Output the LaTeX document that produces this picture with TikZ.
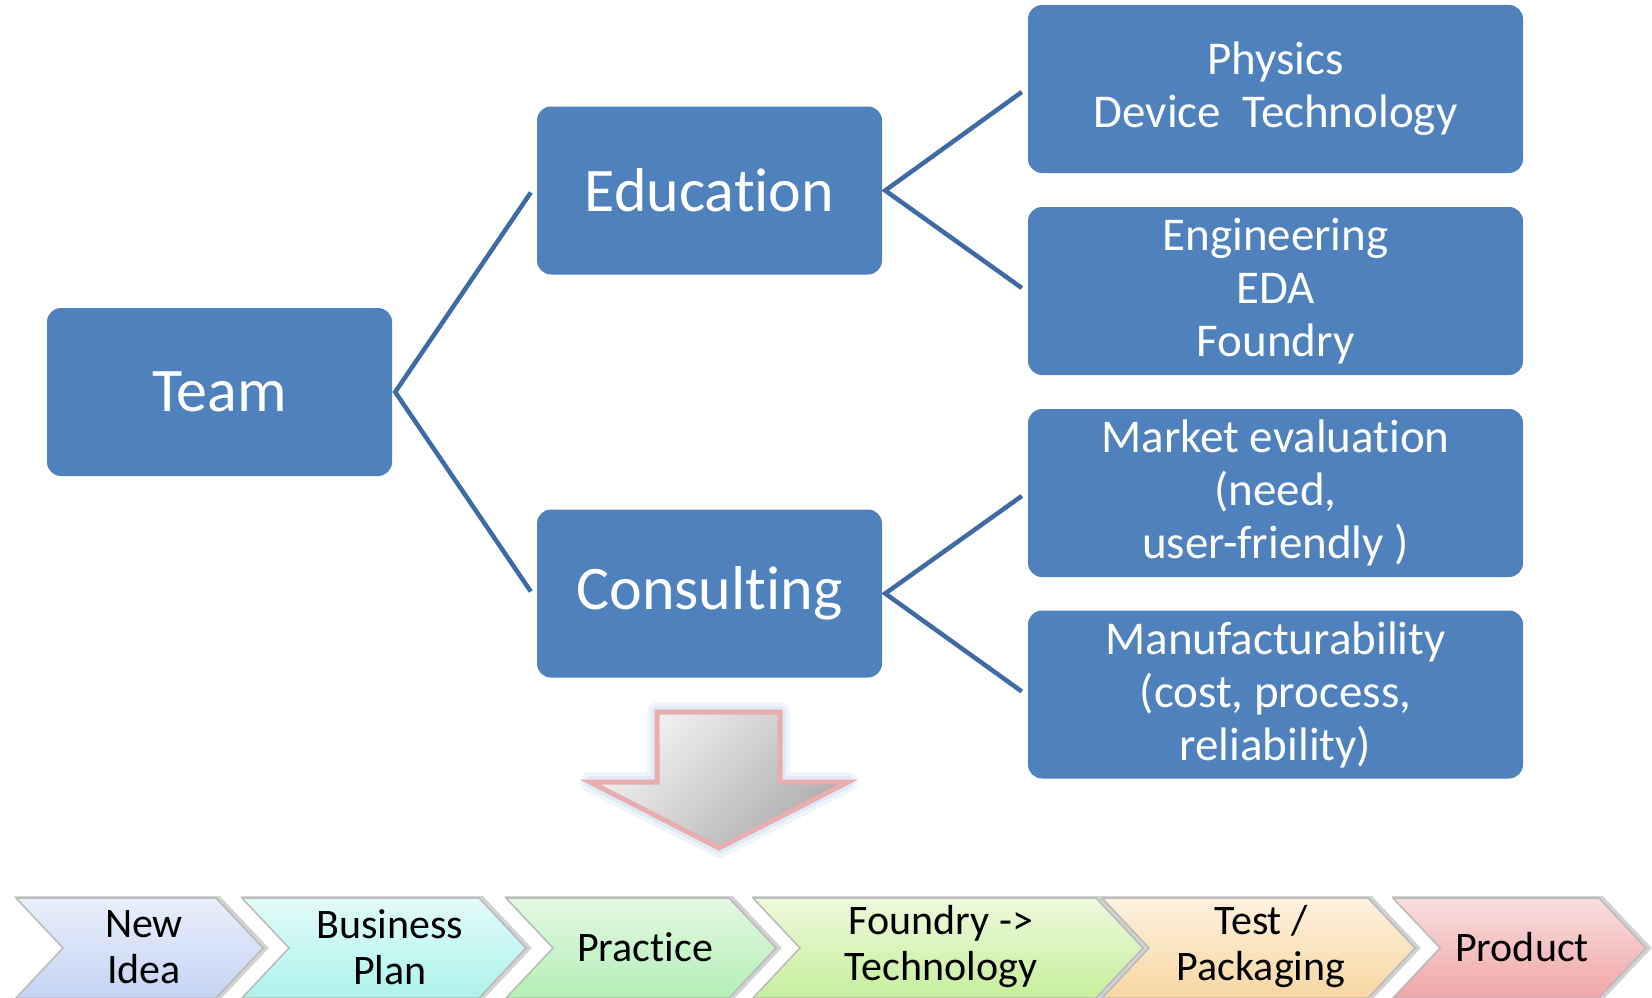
\documentclass[tikz,border=0pt]{standalone}
\usepackage{fontspec}
\setmainfont{Carlito}[Ligatures=NoCommon]
\usetikzlibrary{calc}
\definecolor{boxblue}{HTML}{4F81BD}
\definecolor{lineblue}{HTML}{3F6BA5}
\definecolor{arrowpink}{HTML}{E8AEAE}
\definecolor{glowblue}{HTML}{D6E3F4}
\definecolor{ca}{HTML}{E9EFFB}\definecolor{cab}{HTML}{C5D4F4}
\definecolor{cb}{HTML}{E2FBF9}\definecolor{cbb}{HTML}{ADF3EC}
\definecolor{cc}{HTML}{E4F8E2}\definecolor{ccb}{HTML}{B3EFB6}
\definecolor{cd}{HTML}{EEF9DC}\definecolor{cdb}{HTML}{C6EF9C}
\definecolor{ce}{HTML}{FDF1DE}\definecolor{ceb}{HTML}{F8D7A2}
\definecolor{cf}{HTML}{F9DEDE}\definecolor{cfb}{HTML}{F0A6A6}
\tikzset{
  bigbox/.style={draw=none, fill=boxblue, rounded corners=14pt, minimum width=345pt, minimum height=168pt, text=white, font=\fontsize{62}{70}\selectfont, inner sep=0pt},
  smallbox/.style={draw=none, fill=boxblue, rounded corners=14pt, minimum width=495pt, minimum height=168pt, text=white, font=\fontsize{47}{53}\selectfont, align=center, inner sep=0pt},
  conn/.style={draw=lineblue, line width=4.5pt, line join=miter},
  chevtext/.style={text=black, font=\fontsize{42}{46}\selectfont, align=center, inner sep=0pt},
  chevshape/.style={draw=gray!55, line width=1.5pt, line join=miter},
  chevshadow/.style={draw=gray!35, line width=4pt, line join=miter},
}
\newcommand\mychev[4]{% x0, x1, top colour, bottom colour
  \path[chevshadow, xshift=3pt] (#1,898) -- (#2,898) -- ($(#2,948)+(47,0)$) -- (#2,998) -- (#1,998) -- ($(#1,948)+(47,0)$) -- cycle;
  \path[chevshape, top color=#3, bottom color=#4] (#1,898) -- (#2,898) -- ($(#2,948)+(47,0)$) -- (#2,998) -- (#1,998) -- ($(#1,948)+(47,0)$) -- cycle;
}
\begin{document}
\begin{tikzpicture}[x=1pt, y=-1pt]
\useasboundingbox (0,0) rectangle (1652,998);
\fill[white] (0,0) rectangle (1652,998);

% main boxes
\node[bigbox] (team) at (219.5,392) {Team};
\node[bigbox] (edu) at (709.5,190.5) {Educat\kern0pt ion};
\node[bigbox] (cons) at (709.5,593.5) {Consult\kern0pt ing};

\node[smallbox] (phys) at (1275.5,89) {Physics\\Device~~Technology};
\node[smallbox] (eng) at (1275.5,291) {Engineering\\EDA\\Foundry};
\node[smallbox] (mark) at (1275.5,493) {Market evaluat\kern0pt ion\\(need,\\user-friendly )};
\node[smallbox] (manu) at (1275.5,694.5) {Manufacturability\\(cost, process,\\reliability)};

% connectors
\coordinate (tv) at ($(team.east)+(3,0)$);
\coordinate (ev) at ($(edu.east)+(3,0)$);
\coordinate (cv) at ($(cons.east)+(3,0)$);
\draw[conn] ($(edu.west)+(-6,2)$) -- (tv) -- ($(cons.west)+(-6,-2)$);
\draw[conn] ($(phys.west)+(-6,3)$) -- (ev) -- ($(eng.west)+(-6,-3)$);
\draw[conn] ($(mark.west)+(-6,3)$) -- (cv) -- ($(manu.west)+(-6,-3)$);

% big down arrow
\draw[glowblue, line width=20pt, line join=round, opacity=0.35]
  (657,712) -- (780,712) -- (780,782) -- (848,782) -- (719,848) -- (590,782) -- (657,782) -- cycle;
\draw[glowblue, line width=12pt, line join=round, opacity=0.6]
  (657,712) -- (780,712) -- (780,782) -- (848,782) -- (719,848) -- (590,782) -- (657,782) -- cycle;
\path[draw=arrowpink, line width=5pt, line join=miter, top color=gray!8, bottom color=gray!65, shading angle=45]
  (657,712) -- (780,712) -- (780,782) -- (848,782) -- (719,848) -- (590,782) -- (657,782) -- cycle;

% process chevrons
\mychev{16}{216}{ca}{cab}
\mychev{242}{479}{cb}{cbb}
\mychev{506}{729}{cc}{ccb}
\mychev{753}{1096}{cd}{cdb}
\mychev{1102}{1368}{ce}{ceb}
\mychev{1393}{1599}{cf}{cfb}
\node[chevtext] (p1) at (144,947) {New\\Idea};
\node[chevtext] (p2) at (390,947) {Business\\Plan};
\node[chevtext] (p3) at (645,947) {Practice};
\node[chevtext] (p4) at (941,947) {Foundry -\kern0pt>\\Technology};
\node[chevtext] (p5) at (1261,947) {Test /\\Packaging};
\node[chevtext] (p6) at (1522,947) {Product};
\end{tikzpicture}
\end{document}
